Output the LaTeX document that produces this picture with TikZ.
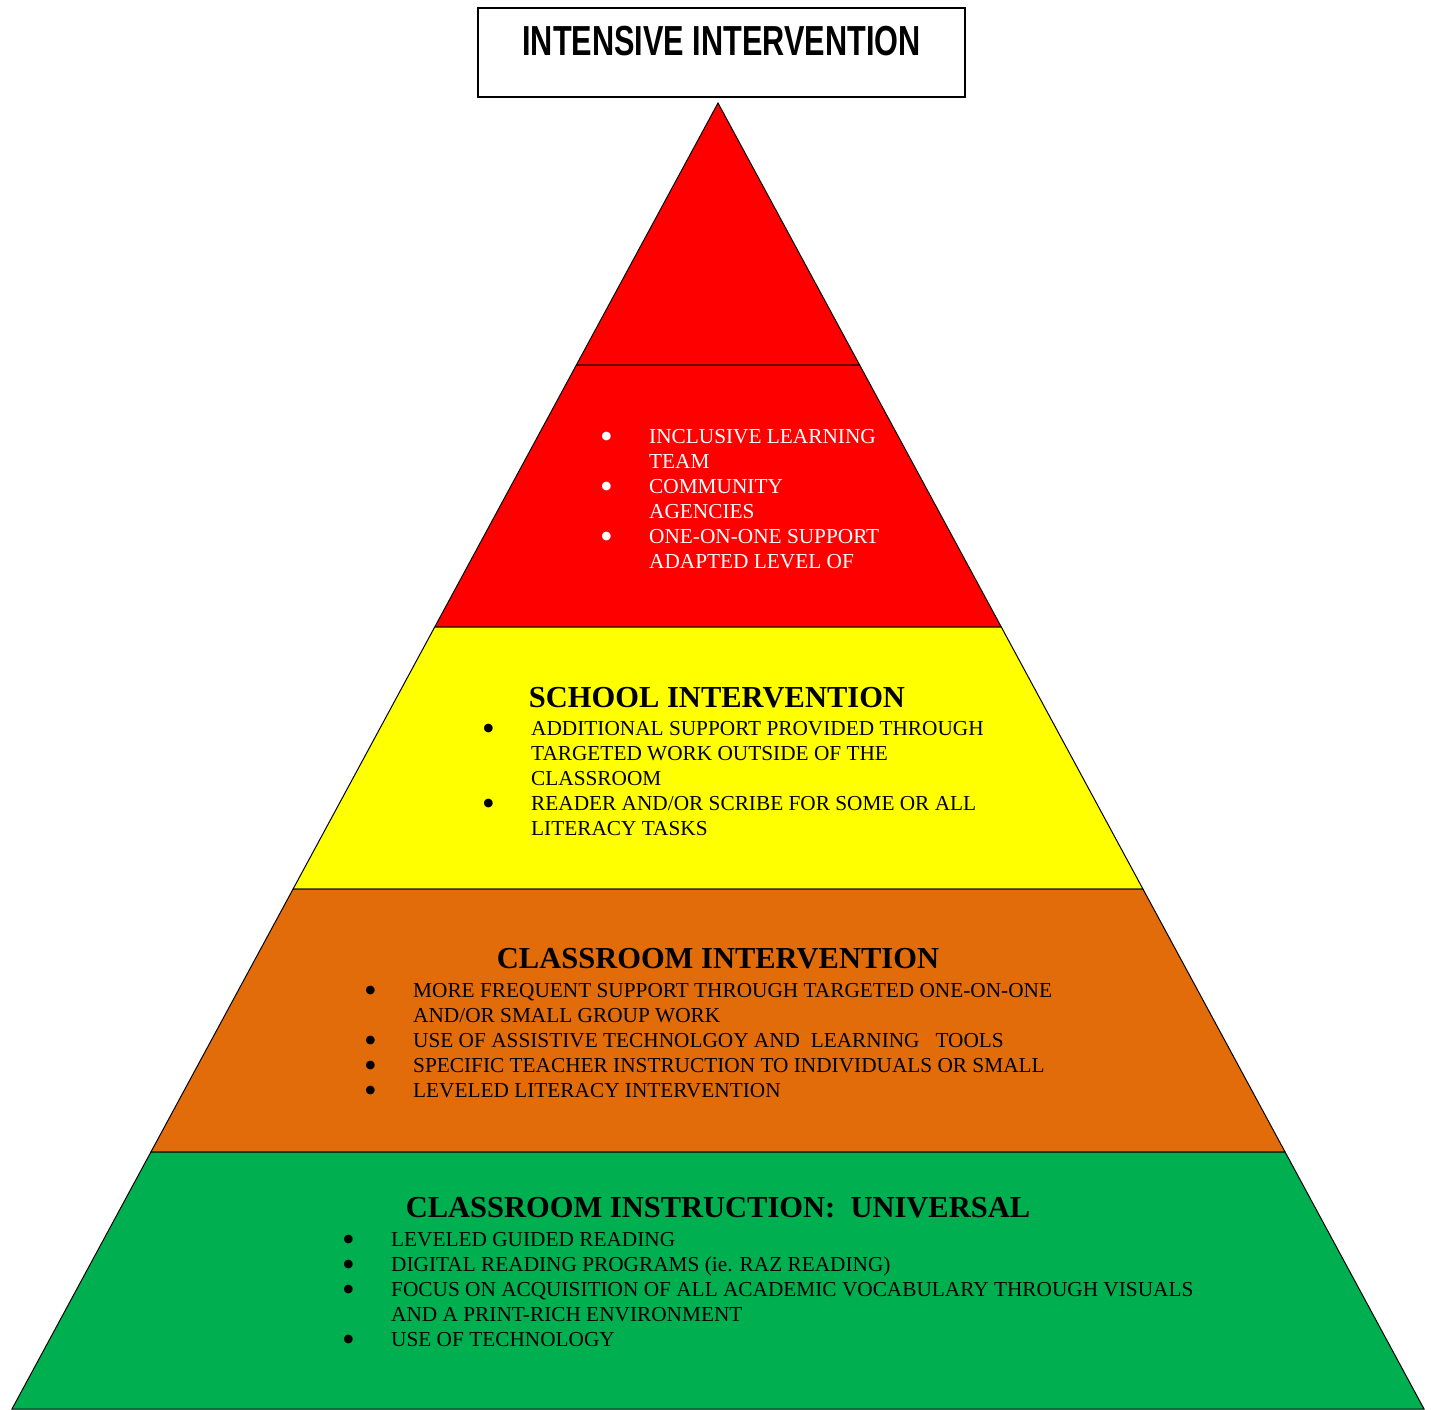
\documentclass[tikz,border=0pt]{standalone}
\usepackage{fontspec}
\setmainfont{Liberation Serif}
\newfontfamily\titlefont[FakeStretch=0.73]{Liberation Sans}
\usepackage{tikz}

\definecolor{tierred}{HTML}{FF0000}
\definecolor{tieryellow}{HTML}{FFFF00}
\definecolor{tierorange}{HTML}{E36C0A}
\definecolor{tiergreen}{HTML}{00B050}

\newcommand{\tierbul}{\raisebox{-5.2pt}[0pt][0pt]{\scalebox{1.7}{\textbullet}}}

\begin{document}
\begin{tikzpicture}[x=1pt,y=-1pt,
	tierhead/.style={anchor=base,inner sep=0,font=\fontsize{30.5}{34}\selectfont\bfseries},
	tierlist/.style={anchor=base west,inner sep=0,font=\fontsize{21.3}{25}\selectfont}]
	\useasboundingbox (0,0) rectangle (1434,1409);

	%bands
	\coordinate (apex) at (718,103);
	\foreach \ytop/\ybot/\col in {103/365/tierred,365/627/tierred,627/889/tieryellow,889/1152/tierorange,1152/1409/tiergreen}{
		\pgfmathsetmacro{\wt}{0.5406*(\ytop-103)}
		\pgfmathsetmacro{\wb}{0.5406*(\ybot-103)}
		\filldraw[fill=\col,line width=1pt] (718-\wt,\ytop) -- (718+\wt,\ytop) -- (718+\wb,\ybot) -- (718-\wb,\ybot) -- cycle;
	}

	%title
	\node[draw,line width=1.6pt,anchor=north,minimum width=487pt,inner xsep=0,inner ysep=0,
		text height=48pt,text depth=41pt,font=\titlefont\fontsize{42}{46}\selectfont\bfseries]
		(title) at (721.5,7) {INTENSIVE INTERVENTION};

	%red band
	\node[tierlist,text=white] (redlist) at (600,443) {\begin{tabular}[t]{@{}p{49pt}@{}l@{}}
		\tierbul & INCLUSIVE LEARNING\\
		 & TEAM\\
		\tierbul & COMMUNITY\\
		 & AGENCIES\\
		\tierbul & ONE-ON-ONE SUPPORT\\
		 & ADAPTED LEVEL OF
	\end{tabular}};

	%yellow band
	\node[tierhead] (schoolhead) at (717,707) {SCHOOL INTERVENTION};
	\node[tierlist] (schoollist) at (482,735) {\begin{tabular}[t]{@{}p{49pt}@{}l@{}}
		\tierbul & ADDITIONAL SUPPORT PROVIDED THROUGH\\
		 & TARGETED WORK OUTSIDE OF THE\\
		 & CLASSROOM\\
		\tierbul & READER AND/OR SCRIBE FOR SOME OR ALL\\
		 & LITERACY TASKS
	\end{tabular}};

	%orange band
	\node[tierhead] (classhead) at (718,968) {CLASSROOM INTERVENTION};
	\node[tierlist] (classlist) at (364,997) {\begin{tabular}[t]{@{}p{49pt}@{}l@{}}
		\tierbul & MORE FREQUENT SUPPORT THROUGH TARGETED ONE-ON-ONE\\
		 & AND/OR SMALL GROUP WORK\\
		\tierbul & USE OF ASSISTIVE TECHNOLGOY AND\hspace{0.5em}LEARNING\hspace{0.75em}TOOLS\\
		\tierbul & SPECIFIC TEACHER INSTRUCTION TO INDIVIDUALS OR SMALL\\
		\tierbul & LEVELED LITERACY INTERVENTION
	\end{tabular}};

	%green band
	\node[tierhead] (univhead) at (718,1217) {CLASSROOM INSTRUCTION:\hspace{0.5em}UNIVERSAL};
	\node[tierlist] (univlist) at (342,1246) {\begin{tabular}[t]{@{}p{49pt}@{}l@{}}
		\tierbul & LEVELED GUIDED READING\\
		\tierbul & DIGITAL READING PROGRAMS (ie. RAZ READING)\\
		\tierbul & FOCUS ON ACQUISITION OF ALL ACADEMIC VOCABULARY THROUGH VISUALS\\
		 & AND A PRINT-RICH ENVIRONMENT\\
		\tierbul & USE OF TECHNOLOGY
	\end{tabular}};
\end{tikzpicture}
\end{document}
